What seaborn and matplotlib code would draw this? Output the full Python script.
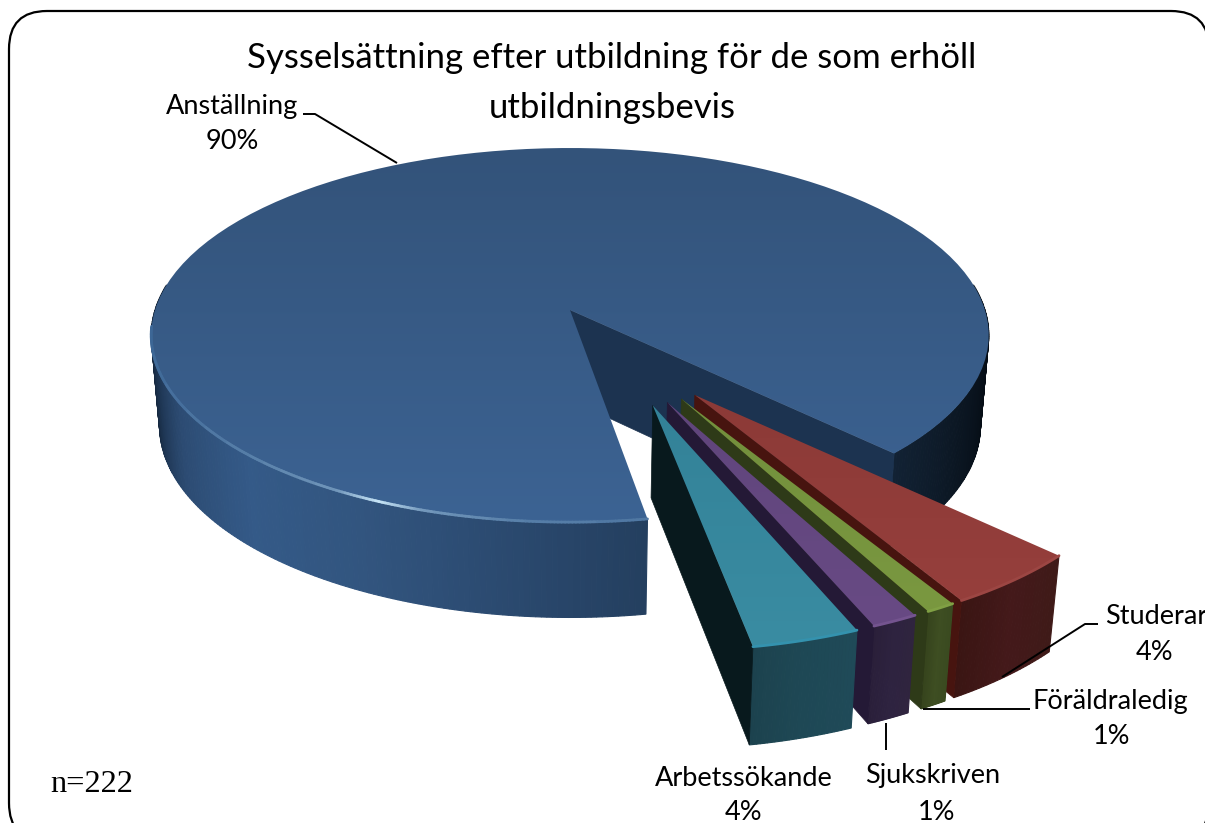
import numpy as np
import matplotlib
matplotlib.use("Agg")
import matplotlib.pyplot as plt
from matplotlib.patches import FancyBboxPatch, Polygon
import seaborn as sns

# -------------------------------
# Data
# -------------------------------
labels = ["Anställning", "Studerar", "Föräldraledig", "Sjukskriven", "Arbetssökande"]
values = [200, 9, 2, 3, 8]  # people, estimated from the percentages and n=222
percent_labels = ["90%", "4%", "1%", "1%", "4%"]
title_lines = ["Sysselsättning efter utbildning för de som erhöll", "utbildningsbevis"]
n_text = "n=222"

# slices after the big one: direction they are pulled out (degrees)
pull_dirs = [-57, -61, -65, -69]
pull_dist = 0.52
fans = [1.1, 1.05, 1.1, 0.95]

top_colors = [("#33537a", "#3c6393"), ("#8c3a37", "#963f3c"), ("#728f3c", "#7a9840"),
              ("#60457c", "#684a84"), ("#338298", "#3a8ca2")]
rim_colors = ["#4a7db8", "#9c4643", "#80a044", "#74548f", "#3492ae"]
front_colors = [None, ("#3f1a18", "#44191a", "#3a1513"), ("#3a4a20", "#3e4e22", "#36441d"),
                ("#30243f", "#2e2340", "#2a1f3a"), ("#1f4a58", "#1e4855", "#1c424e")]
side_colors = [None, "#47140f", "#2e3a18", "#241936", "#08191d"]

# -------------------------------
# Projection of the pie plane to the picture
# -------------------------------
CX, CY, R, RQ, K, SHRINK = 570, 310, 415, 183.7, 0.134, 0.02
DEPTH = 90


def project(u, v):
    u, v = np.asarray(u, float), np.asarray(v, float)
    s = 1 / (1 + K * v)
    return CX + R * u * s, CY - RQ * v * s


def project_low(u, v):
    x, y = project(u, v)
    s = 1 / (1 + K * np.asarray(v, float))
    return CX + (x - CX) * (1 - SHRINK), y + DEPTH * s ** 0.4


def arc(a1, a2, off=(0, 0), n=120):
    a = np.radians(np.linspace(a1, a2, n))
    return off[0] + np.cos(a), off[1] + np.sin(a)


def gradient_face(ax, xs, ys, c1, c2):
    pal = sns.blend_palette([c1, c2], n_colors=64)
    img = np.array(pal)[:, None, :]
    im = ax.imshow(img, extent=(xs.min(), xs.max(), ys.max(), ys.min()),
                   aspect="auto", zorder=ax.zcount, interpolation="bilinear")
    im.set_clip_path(Polygon(np.column_stack([xs, ys]), transform=ax.transData))
    ax.zcount += 1


def strip_wall(ax, u, v, colors):
    # draws the outer wall as thin quads so it can be shaded along the rim
    xt, yt = project(u, v)
    xb, yb = project_low(u, v)
    for i in range(len(u) - 1):
        ax.fill([xt[i], xt[i + 1], xb[i + 1], xb[i]], [yt[i], yt[i + 1], yb[i + 1], yb[i]],
                color=colors[i], lw=0.8, zorder=ax.zcount)
    ax.zcount += 1


def flat_wall(ax, p1, p2, color):
    xt, yt = project([p1[0], p2[0]], [p1[1], p2[1]])
    xb, yb = project_low([p1[0], p2[0]], [p1[1], p2[1]])
    ax.fill([xt[0], xt[1], xb[1], xb[0]], [yt[0], yt[1], yb[1], yb[0]],
            color=color, lw=0.5, zorder=ax.zcount)
    ax.zcount += 1


sns.set_theme(style="white")
plt.rcParams["font.family"] = ["Lato", "DejaVu Sans"]
fig, ax = plt.subplots(figsize=(12.05, 8.23), dpi=100)
ax.set_position([0, 0, 1, 1])
ax.axis("off")
ax.zcount = 3

# frame, runs off the picture on the right and at the bottom
ax.add_patch(FancyBboxPatch((9 + 38, 11 + 38), 1200 - 76, 830 - 76,
                            boxstyle="round,pad=38,rounding_size=38",
                            fc="white", ec="black", lw=1.6, zorder=1))

# -------------------------------
# Big slice
# -------------------------------
gap = 360 * (sum(values) - values[0]) / sum(values)
end_angle = -45
start_angle = end_angle - gap  # right edge of the cut in front

# wall on the front left, from the far side towards the cut
a_left = np.linspace(-188, start_angle, 160)
left_stops = ["#0d1a2a", "#14263c", "#2c4b72", "#345a88", "#32557f", "#2b4a70", "#243f5f"]
left_pal = sns.blend_palette(left_stops, n_colors=len(a_left))
strip_wall(ax, np.cos(np.radians(a_left)), np.sin(np.radians(a_left)), left_pal)

# wall on the right
a_right = np.linspace(8, end_angle, 90)
right_pal = sns.blend_palette(["#03090f", "#050c14", "#0b1622", "#122234"], n_colors=len(a_right))
strip_wall(ax, np.cos(np.radians(a_right)), np.sin(np.radians(a_right)), right_pal)

# inner wall of the cut
e = np.radians(end_angle)
flat_wall(ax, (0, 0), (np.cos(e), np.sin(e)), "#1c3350")

# top
u, v = arc(end_angle, start_angle + 360)
u, v = np.r_[0, u, 0], np.r_[0, v, 0]
xs, ys = project(u, v)
gradient_face(ax, xs, ys, *top_colors[0])

# lit rim along the front
a_rim = np.linspace(-175, start_angle, 220)
rim_stops = np.interp(a_rim, [-175, -150, -135, -120, -114, -108, -95, start_angle],
                      [0.0, 0.1, 0.2, 0.38, 1.0, 0.4, 0.2, 0.15])
xr, yr = project(np.cos(np.radians(a_rim)), np.sin(np.radians(a_rim)))
rim_pal = sns.blend_palette(["#3d6796", "#c8e6f8"], n_colors=30)
for i in range(len(a_rim) - 1):
    ax.plot(xr[i:i + 2], yr[i:i + 2], color=rim_pal[int(rim_stops[i] * 29)], lw=2.0,
            solid_capstyle="round", zorder=ax.zcount)
ax.zcount += 1

# -------------------------------
# Pulled out slices, back to front
# -------------------------------
angle = end_angle
for i in range(1, len(values)):
    sweep = 360 * values[i] / sum(values)
    mid = angle - sweep / 2
    a1, a2 = mid + sweep * fans[i - 1] / 2, mid - sweep * fans[i - 1] / 2
    angle -= sweep
    d = np.radians(pull_dirs[i - 1])
    off = (pull_dist * np.cos(d), pull_dist * np.sin(d))

    # outer wall
    ua, va = arc(a1, a2, off, 30)
    strip_wall(ax, ua, va, sns.blend_palette(front_colors[i], n_colors=len(ua)))

    # side wall towards the front left
    flat_wall(ax, off, (ua[-1], va[-1]), side_colors[i])

    # top
    xs, ys = project(np.r_[off[0], ua, off[0]], np.r_[off[1], va, off[1]])
    gradient_face(ax, xs, ys, *top_colors[i])

    # rim
    xr, yr = project(ua, va)
    ax.plot(xr, yr, color=rim_colors[i], lw=2.0, zorder=ax.zcount)
    ax.zcount += 1

ax.set_xlim(0, 1205)
ax.set_ylim(823, 0)

# -------------------------------
# Leader lines and texts
# -------------------------------
z = ax.zcount + 1
leaders = [([303, 315, 397], [114, 114, 163]),
           ([1098, 1085, 1002], [624, 624, 677]),
           ([1030, 923], [709, 709]),
           ([886, 886], [723, 750])]
for lx, ly in leaders:
    ax.plot(lx, ly, color="black", lw=1.4, zorder=z, solid_capstyle="butt")

ax.text(612, 58, title_lines[0], ha="center", va="center", fontsize=25, color="black", zorder=z)
ax.text(612, 108, title_lines[1], ha="center", va="center", fontsize=25, color="black", zorder=z)

label_pos = [(232, 106, 232, 141), (1105, 617, 1155, 652), (1110, 702, 1112, 737),
             (933, 776, 937, 812), (744, 778, 744, 812)]
for i, (x1, y1, x2, y2) in enumerate(label_pos):
    ha = "left" if labels[i] == "Studerar" else "center"
    ax.text(x1, y1, labels[i], ha=ha, va="center", fontsize=19.5, color="black", zorder=z)
    ax.text(x2, y2, percent_labels[i], ha="center", va="center", fontsize=19.5, color="black", zorder=z)

ax.text(50, 785, n_text, ha="left", va="center", fontsize=23.3, color="black",
        family="Liberation Serif", zorder=z)

fig.savefig("out.png", dpi=100, facecolor="white")
plt.close()
